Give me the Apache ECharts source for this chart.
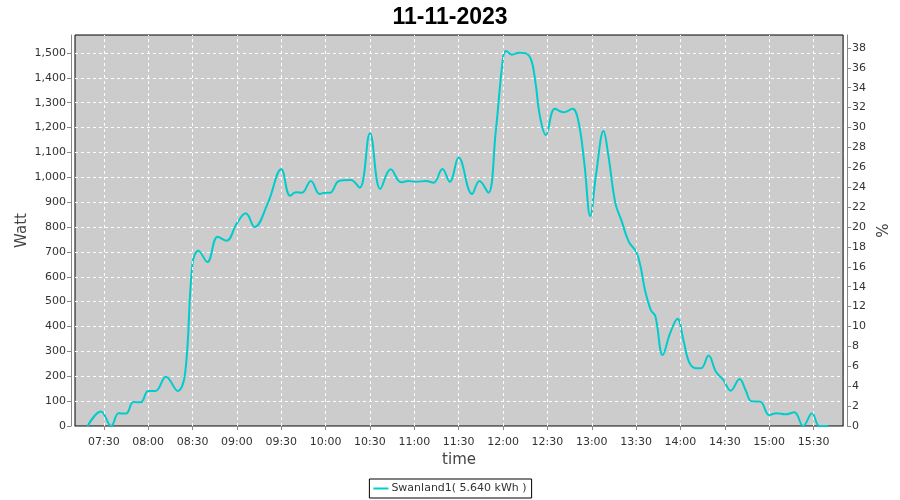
<!DOCTYPE html>
<html>
<head>
<meta charset="utf-8">
<script src="https://cdn.jsdelivr.net/npm/echarts@6/dist/echarts.min.js"></script>
<style>html,body{margin:0;padding:0;background:#fff;}#c{width:900px;height:500px;}</style>
</head>
<body>
<div id="c"></div>
<script>
var chartTitle = '11-11-2023';
var seriesName = 'Swanland1( 5.640 kWh )';
var times = ['07:19','07:28','07:35','07:40','07:45','07:50','07:55','08:00','08:05','08:12','08:20','08:25','08:30','08:34','08:40','08:47','08:53','09:00','09:06','09:12','09:21','09:30','09:36','09:40','09:44','09:50','09:56','10:00','10:03','10:09','10:17','10:23','10:30','10:37','10:44','10:51','10:56','11:01','11:08','11:13','11:19','11:24','11:30','11:39','11:44','11:50','11:55','12:00','12:02','12:06','12:11','12:15','12:19','12:22','12:25','12:29','12:35','12:41','12:47','12:51','12:55','12:59','13:03','13:08','13:11','13:16','13:20','13:25','13:30','13:33','13:36','13:40','13:43','13:48','13:53','13:58','14:02','14:06','14:11','14:14','14:19','14:24','14:29','14:34','14:40','14:44','14:48','14:54','15:00','15:05','15:11','15:17','15:23','15:29','15:34','15:40'];
var watts = [0,58,0,51,50,96,95,141,141,198,141,213,655,705,659,761,745,815,855,800,897,1032,926,940,938,985,933,938,938,985,989,958,1177,953,1032,980,985,982,985,978,1033,982,1079,933,985,938,1180,1480,1508,1493,1501,1499,1472,1378,1244,1170,1275,1261,1275,1224,1056,844,1016,1186,1097,895,828,741,701,641,547,466,442,285,373,431,346,255,232,232,283,218,185,142,189,145,100,98,44,51,47,55,0,51,0,0];
var tickLabels = ['07:30','08:00','08:30','09:00','09:30','10:00','10:30','11:00','11:30','12:00','12:30','13:00','13:30','14:00','14:30','15:00','15:30'];
var xStart = '07:10:30';
var xEnd = '15:50';
var wattMax = 1572;
var pctMax = 39.3;

function mins(s){var p=s.split(':');return (+p[0])*60+(+p[1])+(p[2]?(+p[2])/60:0);}
function fmt(v){var h=Math.floor(v/60),m=Math.round(v-h*60);return (h<10?'0':'')+h+':'+(m<10?'0':'')+m;}
var data = times.map(function(t,i){return [mins(t), watts[i]];});
var tickVals = tickLabels.map(mins);

var chart = echarts.init(document.getElementById('c'), null, {renderer:'canvas'});
var axisFont = {fontFamily:'DejaVu Sans', fontSize:11, color:'#333'};
chart.setOption({
  animation:false,
  backgroundColor:'#ffffff',
  title:{text:chartTitle,left:'center',top:1,textStyle:{fontFamily:'Liberation Sans',fontWeight:'bold',fontSize:23,color:'#000'}},
  legend:{bottom:2,left:'center',data:[seriesName],icon:'rect',itemWidth:15,itemHeight:2,itemGap:4,
    borderColor:'#000',borderWidth:1,backgroundColor:'#fff',padding:[4,5,4,4],
    textStyle:{fontFamily:'DejaVu Sans',fontSize:11,color:'#333',padding:[0,0,0,-2]}},
  grid:{left:75,right:53,top:35,bottom:74,show:true,backgroundColor:'#cccccc',borderColor:'#000',borderWidth:1},
  xAxis:{type:'value',min:mins(xStart),max:mins(xEnd),
    offset:5,name:'time',nameLocation:'middle',nameGap:21,
    nameTextStyle:{fontFamily:'DejaVu Sans',fontSize:15,color:'#444'},
    axisLine:{show:true,lineStyle:{color:'#888',width:1}},
    axisTick:{show:true,length:4,customValues:tickVals,lineStyle:{color:'#888'}},
    axisLabel:Object.assign({customValues:tickVals,formatter:fmt,margin:6},axisFont),
    splitLine:{show:false}},
  yAxis:[
    {type:'value',min:0,max:wattMax,interval:100,offset:4,name:'Watt',nameLocation:'middle',nameGap:41,nameMoveOverlap:false,
      nameTextStyle:{fontFamily:'DejaVu Sans',fontSize:15,color:'#444'},
      axisLine:{show:true,lineStyle:{color:'#888'}},
      axisTick:{show:true,length:4,lineStyle:{color:'#888'}},
      axisLabel:Object.assign({showMaxLabel:false,margin:5,formatter:function(v){return v.toLocaleString('en-US');}},axisFont),
      splitLine:{show:true,showMaxLine:false,showMinLine:false,lineStyle:{color:'#ffffff',type:[3,3],width:1}}},
    {type:'value',min:0,max:pctMax,interval:2,offset:4,position:'right',name:'%',nameLocation:'middle',nameGap:18,
      nameTextStyle:{fontFamily:'DejaVu Sans',fontSize:15,color:'#444'},
      axisLine:{show:true,lineStyle:{color:'#888'}},
      axisTick:{show:true,length:4,lineStyle:{color:'#888'}},
      axisLabel:Object.assign({showMaxLabel:false,margin:5},axisFont),
      splitLine:{show:false}}
  ],
  series:[
    {name:'vgrid',type:'line',data:[],z:1,silent:true,
      markLine:{silent:true,symbol:'none',label:{show:false},
        lineStyle:{color:'#ffffff',type:[3,3],width:1},
        data:tickVals.map(function(v){return {xAxis:v};})}},
    {name:seriesName,type:'line',data:data,z:3,smooth:0.4,showSymbol:false,symbol:'none',
    lineStyle:{color:'#00cccc',width:2},itemStyle:{color:'#00cccc'},clip:true}]
});
</script>
</body>
</html>
